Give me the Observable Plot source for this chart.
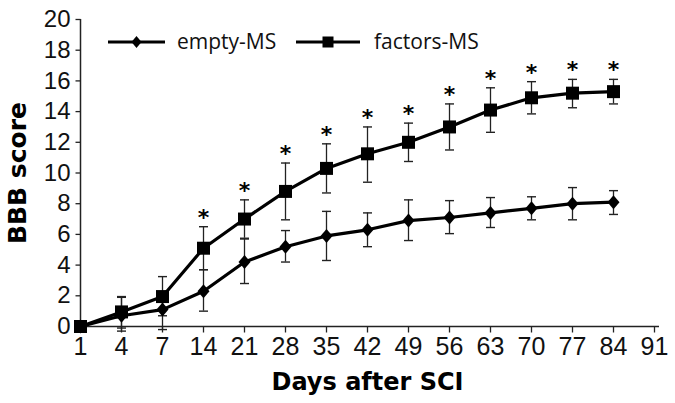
<!DOCTYPE html>
<html>
<head>
<meta charset="utf-8">
<script src="https://cdn.jsdelivr.net/npm/d3@7"></script>
<script src="https://cdn.jsdelivr.net/npm/@observablehq/plot@0.6"></script>
<style>
  html, body { margin: 0; padding: 0; background: #fff; }
  #wrap { position: relative; width: 675px; height: 403px; }
  #legend { position: absolute; left: 0; top: 0; width: 675px; height: 70px; pointer-events: none; }
</style>
</head>
<body>
<div id="wrap"></div>
<script>
// ---- data ----
const days = ["1","4","7","14","21","28","35","42","49","56","63","70","77","84","91"];
const dataDays = ["1","4","7","14","21","28","35","42","49","56","63","70","77","84"];
const emptyMean = [0, 0.7, 1.1, 2.3, 4.2, 5.2, 5.9, 6.3, 6.9, 7.1, 7.4, 7.7, 8.0, 8.1];
const emptyHi   = [0, 1.9, 1.7, 3.7, 5.7, 6.25, 7.5, 7.4, 8.25, 8.2, 8.4, 8.45, 9.05, 8.85];
const emptyLo   = [0, -0.3, -0.2, 1.0, 2.8, 4.2, 4.3, 5.2, 5.6, 6.05, 6.45, 6.95, 6.95, 7.3];
const factorsMean = [0, 0.95, 1.95, 5.1, 7.0, 8.8, 10.3, 11.25, 12.0, 13.0, 14.1, 14.9, 15.2, 15.3];
const factorsHi   = [0, 1.95, 3.25, 6.5, 8.25, 10.65, 11.9, 13.0, 13.25, 14.5, 15.55, 15.95, 16.1, 16.1];
const factorsLo   = [0, -0.1, 0.7, 3.7, 5.75, 6.95, 8.7, 9.4, 10.75, 11.5, 12.65, 13.85, 14.25, 14.5];
const significant = ["14","21","28","35","42","49","56","63","70","77","84"];
const yTicks = [0, 2, 4, 6, 8, 10, 12, 14, 16, 18, 20];
const seriesNames = ["empty-MS", "factors-MS"];

const rows = [];
dataDays.forEach((d, i) => {
  rows.push({series: seriesNames[0], day: d, mean: emptyMean[i], hi: emptyHi[i], lo: emptyLo[i]});
  rows.push({series: seriesNames[1], day: d, mean: factorsMean[i], hi: factorsHi[i], lo: factorsLo[i]});
});
const emptyRows = rows.filter(r => r.series === seriesNames[0]);
const factorRows = rows.filter(r => r.series === seriesNames[1]);
const starRows = factorRows.filter(r => significant.includes(r.day));
const errRows = rows.filter(r => r.hi !== r.lo);

const capSymbol = { draw(ctx) { ctx.moveTo(-4.5, 0); ctx.lineTo(4.5, 0); } };
const diamondSymbol = { draw(ctx) { ctx.moveTo(0, -7); ctx.lineTo(6, 0); ctx.lineTo(0, 7); ctx.lineTo(-6, 0); ctx.closePath(); } };
const squareSymbol = { draw(ctx) { ctx.rect(-6.5, -6.5, 13, 13); } };
const yTickSymbol = { draw(ctx) { ctx.moveTo(-5, 0); ctx.lineTo(0, 0); } };
const xTickSymbol = { draw(ctx) { ctx.moveTo(0, 0); ctx.lineTo(0, 6); } };

const chart = Plot.plot({
  width: 675,
  height: 403,
  marginLeft: 75,
  marginRight: 16,
  marginTop: 19,
  marginBottom: 77,
  style: { fontFamily: "Liberation Sans, Arial, sans-serif", background: "#fff", color: "#000", overflow: "visible" },
  x: { type: "point", domain: days, padding: 0, axis: null },
  y: { domain: [0, 20], axis: null },
  marks: [
    // axis lines, ticks and tick labels
    Plot.ruleY([0], {stroke: "#222", strokeWidth: 1.5}),
    Plot.ruleX([days[0]], {stroke: "#222", strokeWidth: 1.5}),
    Plot.dot(yTicks, {x: () => days[0], y: d => d, symbol: yTickSymbol, stroke: "#222", strokeWidth: 1.3, fill: "none"}),
    Plot.dot(days, {x: d => d, y: () => 0, symbol: xTickSymbol, stroke: "#222", strokeWidth: 1.3, fill: "none"}),
    Plot.text(yTicks, {x: () => days[0], y: d => d, text: d => String(d), textAnchor: "end", dx: -10, fontSize: 24, fontFamily: "Liberation Sans, Arial, sans-serif", fill: "#111"}),
    Plot.text(days, {x: d => d, y: () => 0, text: d => d, lineAnchor: "top", dy: 11, fontSize: 25, fontFamily: "Liberation Sans, Arial, sans-serif", fill: "#111", ariaLabel: "x tick labels"}),
    // axis titles
    Plot.text(["Days after SCI"], {frameAnchor: "bottom", dy: 63, fontSize: 24, fontWeight: "bold", fontFamily: "DejaVu Sans, sans-serif", fill: "#000"}),
    Plot.text(["BBB score"], {frameAnchor: "left", textAnchor: "middle", dx: -58, rotate: -90, fontSize: 25, fontWeight: "bold", fontFamily: "DejaVu Sans, sans-serif", fill: "#000"}),
    // error bars
    Plot.ruleX(errRows, {x: "day", y1: "lo", y2: "hi", stroke: "#222", strokeWidth: 1.3}),
    Plot.dot(errRows, {x: "day", y: "hi", symbol: capSymbol, stroke: "#222", strokeWidth: 1.4, fill: "none"}),
    Plot.dot(errRows, {x: "day", y: "lo", symbol: capSymbol, stroke: "#222", strokeWidth: 1.4, fill: "none"}),
    // lines
    Plot.line(emptyRows, {x: "day", y: "mean", stroke: "#000", strokeWidth: 3.2}),
    Plot.line(factorRows, {x: "day", y: "mean", stroke: "#000", strokeWidth: 3.2}),
    // markers
    Plot.dot(emptyRows, {x: "day", y: "mean", symbol: diamondSymbol, fill: "#000", stroke: "none"}),
    Plot.dot(factorRows, {x: "day", y: "mean", symbol: squareSymbol, fill: "#000", stroke: "none"}),
    // significance stars
    Plot.text(starRows, {x: "day", y: "hi", text: () => "*", dy: -2, lineAnchor: "bottom", fontSize: 22, fontWeight: "bold", fontFamily: "DejaVu Sans, sans-serif", fill: "#000"})
  ]
});

const wrap = document.getElementById("wrap");
wrap.appendChild(chart);

// narrow x tick labels as in the reference
try {
  d3.select(chart).selectAll('g[aria-label="x tick labels"] text').each(function() {
    const w = this.getComputedTextLength();
    if (w > 0) {
      this.setAttribute("textLength", (w * 0.8).toFixed(2));
      this.setAttribute("lengthAdjust", "spacingAndGlyphs");
    }
  });
} catch (e) {}

// legend overlay
const legend = d3.select(wrap).append("svg").attr("id", "legend").attr("width", 675).attr("height", 70);
const legendItems = [
  {name: seriesNames[0], x0: 108, x1: 165, tx: 177, sym: "diamond"},
  {name: seriesNames[1], x0: 296, x1: 360, tx: 374, sym: "square"}
];
legendItems.forEach(it => {
  const g = legend.append("g");
  const cy = 42;
  g.append("line").attr("x1", it.x0).attr("x2", it.x1).attr("y1", cy).attr("y2", cy).attr("stroke", "#000").attr("stroke-width", 3.2);
  const cx = (it.x0 + it.x1) / 2;
  if (it.sym === "diamond") {
    g.append("path").attr("d", `M${cx},${cy-6}L${cx+5},${cy}L${cx},${cy+6}L${cx-5},${cy}Z`).attr("fill", "#000");
  } else {
    g.append("rect").attr("x", cx - 5.5).attr("y", cy - 5.5).attr("width", 11).attr("height", 11).attr("fill", "#000");
  }
  g.append("text").attr("x", it.tx).attr("y", cy).attr("dy", "0.35em").attr("font-family", "Open Sans, Lato, sans-serif").attr("font-size", 21).attr("fill", "#111").text(it.name);
});
</script>
</body>
</html>
